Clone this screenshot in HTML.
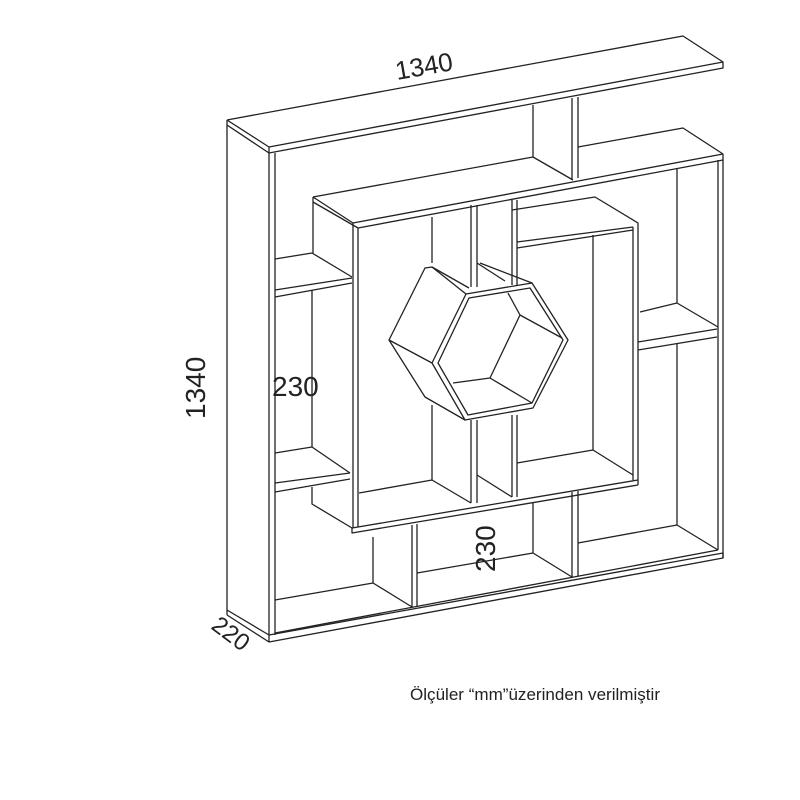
<!DOCTYPE html>
<html><head><meta charset="utf-8"><style>
html,body{margin:0;padding:0;background:#fff;}
svg{display:block;}
text{font-family:"Liberation Sans",sans-serif;fill:#222;}
</style></head><body>
<svg width="800" height="800" viewBox="0 0 800 800" xmlns="http://www.w3.org/2000/svg">
<g stroke="#222" stroke-width="1.3" fill="none" stroke-linejoin="round">
<!-- top board -->
<polyline points="227,120 683,36 723,62 723,68 269,153 227,125 227,120"/>
<line x1="227" y1="120" x2="269" y2="147"/>
<line x1="269" y1="147" x2="723" y2="62"/>
<line x1="269" y1="147" x2="269" y2="153"/>
<!-- left side -->
<line x1="227" y1="125" x2="227" y2="615"/>
<line x1="269" y1="153" x2="269" y2="642"/>
<line x1="275" y1="153" x2="275" y2="635"/>
<!-- bottom board -->
<polyline points="227,610 269,635 723,553"/>
<polyline points="227,615 269,642 723,558 723,553"/>
<line x1="275" y1="633" x2="718" y2="550"/>
<!-- right side -->
<line x1="723" y1="154" x2="723" y2="558"/>
<line x1="718" y1="160" x2="718" y2="550"/>
<!-- top dividers -->
<line x1="533" y1="105" x2="533" y2="157"/>
<line x1="572" y1="98" x2="572" y2="180"/>
<line x1="578" y1="97" x2="578" y2="178"/>
<!-- middle shelf -->
<polyline points="578,147 683,128 723,154"/>
<line x1="353" y1="223" x2="723" y2="154"/>
<line x1="358" y1="228" x2="723" y2="160"/>
<polyline points="313,197 533,157 573,180"/>
<polyline points="313,197 353,223 353,528"/>
<polyline points="313,202 358,228 358,527"/>
<line x1="313" y1="197" x2="313" y2="253"/>
<!-- right upper column -->
<line x1="677" y1="168" x2="677" y2="303"/>
<polyline points="640,312 677,303 718,327"/>
<line x1="638" y1="342" x2="717" y2="329"/>
<line x1="638" y1="350" x2="717" y2="337"/>
<polyline points="677,343 677,525 718,550"/>
<!-- left small shelves -->
<polyline points="275,259 312,253 352,277"/>
<line x1="275" y1="290" x2="352" y2="278"/>
<line x1="275" y1="297" x2="352" y2="283"/>
<line x1="312" y1="290" x2="312" y2="447"/>
<polyline points="275,453 312,447 350,473"/>
<line x1="275" y1="483" x2="350" y2="473"/>
<line x1="275" y1="492" x2="350" y2="479"/>
<!-- middle box bottom -->
<polyline points="312,487 312,504 352,528 638,480"/>
<polyline points="352,528 352,533 638,485"/>
<!-- middle box right side -->
<polyline points="512,210 595,197 638,223 638,485"/>
<line x1="633" y1="227" x2="633" y2="480"/>
<line x1="517" y1="242" x2="633" y2="227"/>
<line x1="517" y1="248" x2="633" y2="230"/>
<line x1="593" y1="235" x2="593" y2="450"/>
<!-- central dividers -->
<line x1="471" y1="205" x2="471" y2="287"/>
<line x1="477" y1="205" x2="477" y2="287"/>
<line x1="512" y1="200" x2="512" y2="285"/>
<line x1="517" y1="200" x2="517" y2="285"/>
<line x1="471" y1="420" x2="471" y2="503"/>
<line x1="477" y1="420" x2="477" y2="503"/>
<line x1="512" y1="415" x2="512" y2="497"/>
<line x1="517" y1="415" x2="517" y2="497"/>
<line x1="477" y1="263" x2="505" y2="281"/>
<line x1="432" y1="217" x2="432" y2="263"/>
<line x1="432" y1="405" x2="432" y2="480"/>
<!-- middle box inner shelves -->
<polyline points="359,493 432,480 471,503"/>
<polyline points="517,463 593,450 633,475"/>
<line x1="477" y1="475" x2="512" y2="497"/>
<!-- bottom section -->
<line x1="373" y1="537" x2="373" y2="583"/>
<polyline points="275,600 373,583 412,607"/>
<line x1="412" y1="525" x2="412" y2="607"/>
<line x1="417" y1="524" x2="417" y2="606"/>
<polyline points="417,573 533,553 572,577"/>
<line x1="533" y1="502" x2="533" y2="553"/>
<line x1="572" y1="492" x2="572" y2="577"/>
<line x1="578" y1="491" x2="578" y2="576"/>
<line x1="578" y1="543" x2="677" y2="525"/>
<!-- hexagon -->
<polygon points="466,294 532,283 568,340 533,408 465,420 432,363" fill="#fff"/>
<polygon points="469,298 530,288 563,340 532,403 468,415 438,363"/>
<polyline points="466,294 432,267 425,268 389,340 425,397 465,420"/>
<line x1="389" y1="340" x2="432" y2="363"/>
<line x1="432" y1="267" x2="469" y2="288"/>
<line x1="480" y1="263" x2="532" y2="283"/>
<polyline points="508,293 520,315 490,378 453,383"/>
<line x1="520" y1="315" x2="562" y2="338"/>
<line x1="490" y1="378" x2="532" y2="403"/>
</g>
<text x="0" y="0" font-size="26" transform="translate(397,80) rotate(-10)">1340</text>
<text x="0" y="0" font-size="28" transform="translate(205,419) rotate(-90)">1340</text>
<text x="272" y="396" font-size="28">230</text>
<text x="0" y="0" font-size="28" transform="translate(495,572) rotate(-90)">230</text>
<text x="0" y="0" font-size="24" transform="translate(210,628) rotate(37)">220</text>
<text x="410" y="700" font-size="16.5" textLength="250" lengthAdjust="spacingAndGlyphs">Ölçüler “mm”üzerinden verilmiştir</text>
</svg>
</body></html>
